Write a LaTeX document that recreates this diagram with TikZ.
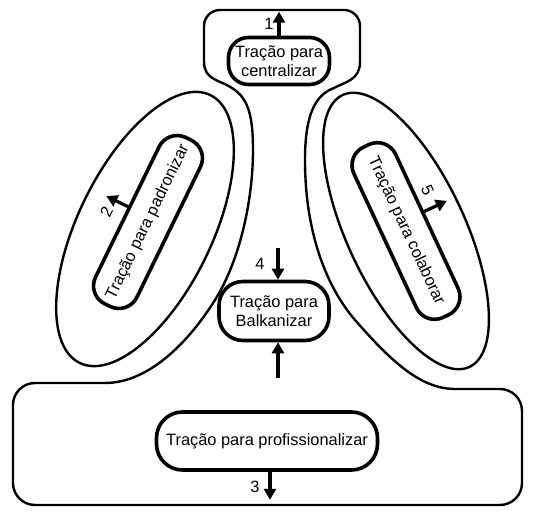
\documentclass[tikz,border=0pt]{standalone}
\usepackage{fontspec}
\setmainfont{Liberation Sans}
\usetikzlibrary{arrows.meta}

\begin{document}
\begin{tikzpicture}[x=0.5pt, y=-0.5pt,
    font=\fontsize{8.2}{9.5}\selectfont,
    tbox/.style={draw, line width=1.8pt, rounded corners=10pt, align=center, inner sep=2pt},
    contour/.style={line width=1.2pt, line cap=round},
    arr/.style={line width=1.6pt, -{Triangle[width=6pt,length=5.5pt]}},
    num/.style={inner sep=0pt}]

    \useasboundingbox (0,0) rectangle (536,512);

    % 外枠 (上)
    \draw[contour, rounded corners=8pt] (204,62) -- (204,10) -- (360,10) -- (360,62);
    % 外枠 (左のくびれ)
    \draw[contour] (204,62) .. controls (204,80) and (220,80) .. (232,88)
        .. controls (248,98) and (253,115) .. (253,150)
        .. controls (253,200) and (240,260) .. (215,300)
        .. controls (190,340) and (150,383) .. (105,383);
    % 外枠 (右のくびれ)
    \draw[contour] (360,62) .. controls (360,80) and (345,82) .. (334,88)
        .. controls (315,95) and (305,115) .. (305,160)
        .. controls (305,230) and (325,285) .. (355,320)
        .. controls (390,360) and (420,389) .. (455,389);
    % 外枠 (下)
    \draw[contour, rounded corners=11pt] (105,383) -- (13,383) -- (13,505)
        -- (522,505) -- (522,389) -- (455,389);

    % 楕円
    \draw[contour, rotate around={64:(145,229)}] (145,229) ellipse [x radius=149, y radius=67];
    \draw[contour, rotate around={-65:(406,231)}] (406,231) ellipse [x radius=150, y radius=59];

    % 箱
    \node[tbox, minimum width=50.5pt, minimum height=23.5pt] (cen) at (279,61) {Tração para\\centralizar};
    \node[tbox, rounded corners=12pt, minimum width=55pt, minimum height=29.5pt] (bal) at (274,311) {Tração para\\Balkanizar};
    \node[tbox, rounded corners=13pt, minimum width=110.5pt, minimum height=29pt] (pro) at (267,441) {Tração para profissionalizar};

    % 矢印と番号
    \coordinate (c1) at ([yshift=12pt]cen.north);
    \draw[arr] (cen.north) -- (c1);
    \node[num] (n1) at ([xshift=-5pt,yshift=6pt]cen.north) {1};

    \coordinate (c4) at ([xshift=2pt,yshift=16pt]bal.north);
    \draw[arr] (c4) -- ([xshift=2pt]bal.north);
    \node[num] (n4) at ([xshift=-7pt,yshift=8pt]bal.north) {4};
    \coordinate (c4b) at ([xshift=2pt,yshift=-18pt]bal.south);
    \draw[arr] (c4b) -- ([xshift=2pt]bal.south);

    \coordinate (c3) at ([xshift=1.5pt,yshift=-14pt]pro.south);
    \draw[arr] ([xshift=1.5pt]pro.south) -- (c3);
    \node[num] (n3) at ([xshift=-6pt,yshift=-7.5pt]pro.south) {3};

    % 左の箱
    \begin{scope}[shift={(148,222)}, rotate=64, transform shape]
        \node[tbox, minimum width=92.5pt, minimum height=23pt] (pad) at (0,0) {Tração para padronizar};
        \coordinate (c2) at ([xshift=2.5pt,yshift=12pt]pad.north);
        \draw[arr] ([xshift=2.5pt]pad.north) -- (c2);
        \node[num] (n2) at ([xshift=-4.5pt,yshift=8.5pt]pad.north) {2};
    \end{scope}

    % 右の箱
    \begin{scope}[shift={(406,231)}, rotate=-65, transform shape]
        \node[tbox, minimum width=94pt, minimum height=23pt] (col) at (0,0) {Tração para colaborar};
        \coordinate (c5) at ([xshift=-5pt,yshift=12.5pt]col.north);
        \draw[arr] ([xshift=-5pt]col.north) -- (c5);
        \node[num] (n5) at ([xshift=-14pt,yshift=6pt]col.north) {5};
    \end{scope}

\end{tikzpicture}
\end{document}
